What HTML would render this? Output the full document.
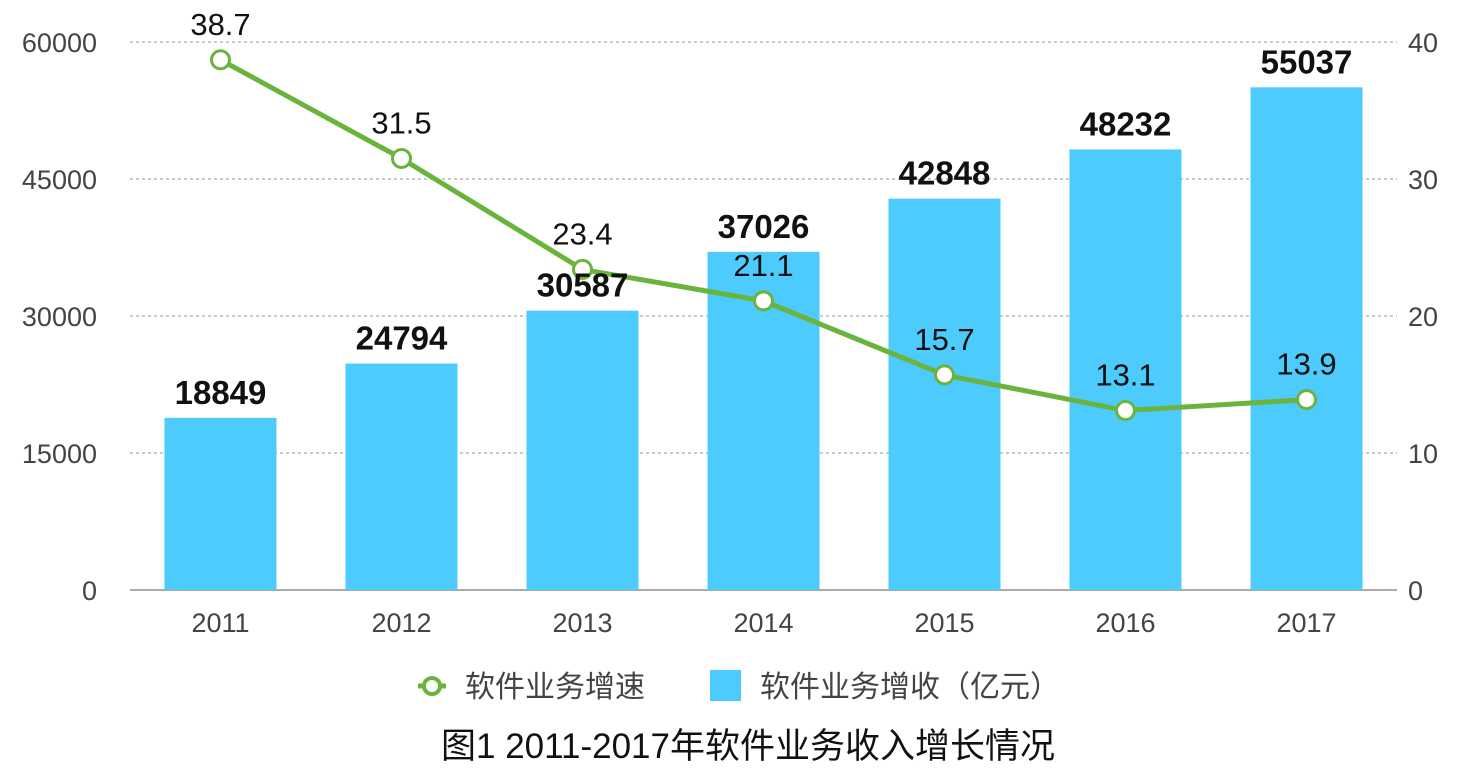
<!DOCTYPE html>
<html><head><meta charset="utf-8"><style>
html,body{margin:0;padding:0;background:#fff;}
svg{display:block;font-family:"Liberation Sans","Noto Sans CJK SC",sans-serif;}
</style></head><body>
<svg id="chart" width="1474" height="770" xmlns="http://www.w3.org/2000/svg">
<g id="grid"></g>
<g id="bars"></g>
<g id="line"></g>
<g id="labels"></g>
<g>
<line x1="418" y1="686" x2="446" y2="686" stroke="#6ab43e" stroke-width="5"/>
<circle cx="432" cy="686" r="8" fill="#fff" stroke="#6ab43e" stroke-width="4"/>
<text x="465" y="697" font-size="30" fill="#444">软件业务增速</text>
<rect x="710" y="670" width="31" height="31" fill="#4dcbfc"/>
<text x="760" y="697" font-size="30" fill="#444">软件业务增收（亿元）</text>
</g>
<text x="748" y="758" text-anchor="middle" font-size="35" fill="#111">图1 2011-2017年软件业务收入增长情况</text>
</svg>
<script>
const categories=["2011","2012","2013","2014","2015","2016","2017"];
const revenue=[18849,24794,30587,37026,42848,48232,55037];
const growth=[38.7,31.5,23.4,21.1,15.7,13.1,13.9];
const leftTicks=[0,15000,30000,45000,60000];
const rightTicks=[0,10,20,30,40];
const NS="http://www.w3.org/2000/svg";
const x0=130,x1=1397,yTop=42,yBot=590;
const band=(x1-x0)/categories.length;
const xc=i=>x0+band*(i+0.5);
const yL=v=>yBot-(v/60000)*(yBot-yTop);
const yR=v=>yBot-(v/40)*(yBot-yTop);
function mk(tag,attrs,parent,txt){const e=document.createElementNS(NS,tag);for(const k in attrs)e.setAttribute(k,attrs[k]);if(txt!==undefined)e.textContent=txt;document.getElementById(parent).appendChild(e);return e;}
leftTicks.forEach((t,i)=>{
  const y=yL(t);
  const g=mk('line',{x1:x0,x2:x1,y1:y,y2:y,stroke:t===0?'#aaa':'#aaa','stroke-width':t===0?2:1.2,'stroke-dasharray':t===0?'none':'3,3'},'grid');
  
  
  const a=mk('text',{x:97,y:y+10,'text-anchor':'end','font-size':27,fill:'#444'},'grid',String(t));
  
  
});
rightTicks.forEach(t=>{
  const b=mk('text',{x:1408,y:yR(t)+10,'font-size':27,fill:'#444'},'grid',String(t));
  
  
});
categories.forEach((c,i)=>{
  const l=mk('text',{x:xc(i),y:632,'text-anchor':'middle','font-size':27,fill:'#444'},'grid',c);
  
  
  const bw=112;
  const r=mk('rect',{x:xc(i)-bw/2,y:yL(revenue[i]),width:bw,height:yBot-yL(revenue[i]),fill:'#4dcbfc'},'bars');
  
  
  const v=mk('text',{x:xc(i),y:yL(revenue[i])-14,'text-anchor':'middle','font-size':33,'font-weight':'bold',fill:'#111'},'labels',String(revenue[i]));
  
  
});
const pts=growth.map((g,i)=>xc(i)+','+yR(g)).join(' ');
const pl=mk('polyline',{points:pts,fill:'none',stroke:'#6ab43e','stroke-width':5,'stroke-linejoin':'round'},'line');


growth.forEach((g,i)=>{
  const c=mk('circle',{cx:xc(i),cy:yR(g),r:9,fill:'#fff',stroke:'#6ab43e','stroke-width':3},'line');
  
  
  const t=mk('text',{x:xc(i),y:yR(g)-25,'text-anchor':'middle','font-size':31,fill:'#111'},'labels',g.toFixed(1));
  
  
});
</script>
</body></html>
